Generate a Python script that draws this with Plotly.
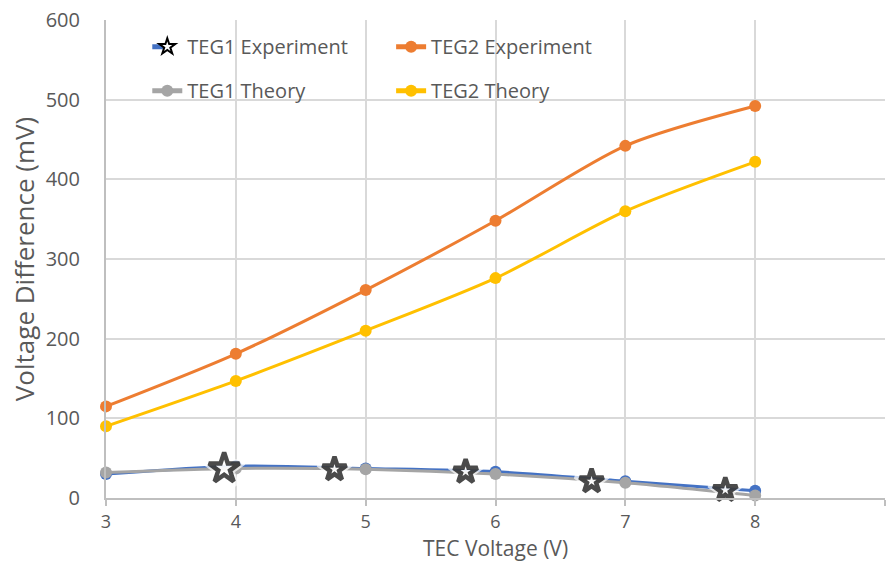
import plotly.graph_objects as go

# TEC drive voltage (V)
tec_voltage = [3, 4, 5, 6, 7, 8]

# Measured and predicted voltage difference (mV)
teg1_experiment = [30, 40, 37, 33, 21, 9]
teg1_theory = [32, 37, 36, 30, 19, 3]
teg2_experiment = [115, 181, 261, 348, 442, 492]
teg2_theory = [90, 147, 210, 276, 360, 422]

# Star callouts placed along the TEG1 experiment curve
star_x = [3.91, 4.76, 5.77, 6.74, 7.77]
star_y = [37, 36, 33, 21, 10]
star_size = [23, 18, 18, 18, 18]

BLUE = "#4472C4"
ORANGE = "#ED7D31"
GREY = "#A5A5A5"
YELLOW = "#FFC000"
TEXT = "#595959"
GRID = "#D9D9D9"
AXIS = "#BFBFBF"
FONT = "'Open Sans', Lato, sans-serif"

fig = go.Figure()


def series(name, y, color, legend, group, show=True):
    fig.add_trace(go.Scatter(
        x=tec_voltage, y=y, name=name, mode="lines+markers",
        line=dict(color=color, width=3, shape="spline", smoothing=0.8),
        marker=dict(color=color, size=12, symbol="circle"),
        cliponaxis=False, legend=legend, legendgroup=group, showlegend=show,
    ))


series("TEG1 Experiment", teg1_experiment, BLUE, "legend", "a1", show=False)
series("TEG1 Theory", teg1_theory, GREY, "legend", "a2")
series("TEG2 Experiment", teg2_experiment, ORANGE, "legend2", "b1")
series("TEG2 Theory", teg2_theory, YELLOW, "legend2", "b2")

# White halo behind each star, breaking the curves underneath
fig.add_trace(go.Scatter(
    x=star_x, y=star_y, mode="markers", showlegend=False, hoverinfo="skip",
    marker=dict(symbol="star", color="white", size=[s + 6 for s in star_size],
                line=dict(color="white", width=6)),
    cliponaxis=False,
))
fig.add_trace(go.Scatter(
    x=star_x, y=star_y, mode="markers", showlegend=False,
    marker=dict(symbol="star", color="white", size=star_size,
                line=dict(color="black", width=4.5)),
    cliponaxis=False,
))

# Legend entry for the experiment series, shown with its star symbol
fig.add_trace(go.Scatter(
    x=[None], y=[None], name="TEG1 Experiment", mode="lines+markers",
    line=dict(color=BLUE, width=3, dash="dash"),
    marker=dict(symbol="star", color="white", size=14, line=dict(color="black", width=3)),
    legend="legend", legendgroup="a1", legendrank=1,
))

legend_style = dict(
    font=dict(family=FONT, size=20, color=TEXT),
    bgcolor="rgba(255,255,255,0)", borderwidth=0,
    orientation="v", yanchor="top", xanchor="left",
    tracegroupgap=15, itemsizing="constant",
)

fig.update_layout(
    width=890, height=562,
    margin=dict(l=106, r=5, t=20, b=64),
    paper_bgcolor="white", plot_bgcolor="white",
    font=dict(family=FONT, size=20, color=TEXT),
    legend=dict(x=0.053, y=0.985, **legend_style),
    legend2=dict(x=0.366, y=0.985, **legend_style),
    xaxis=dict(
        range=[3, 9], dtick=1, tick0=3, automargin=False,
        showgrid=True, gridcolor=GRID, gridwidth=2,
        showline=True, linecolor=AXIS, linewidth=2,
        ticks="outside", ticklen=6, tickcolor=AXIS, tickwidth=2,
        ticklabelstandoff=0,
        zeroline=False,
        tickfont=dict(family=FONT, size=18, color=TEXT),
    ),
    yaxis=dict(
        range=[0, 600], dtick=100, automargin=False,
        showgrid=True, gridcolor=GRID, gridwidth=2,
        showline=True, linecolor=AXIS, linewidth=2,
        zeroline=False, ticks="",
        ticklabelstandoff=20,
        title=dict(text="Voltage Difference (mV)", font=dict(family=FONT, size=26, color=TEXT), standoff=4),
        tickfont=dict(family=FONT, size=20, color=TEXT),
    ),
    annotations=[dict(
        text="TEC Voltage (V)", xref="paper", yref="paper",
        x=0.5, y=-0.1036, xanchor="center", yanchor="middle", showarrow=False,
        font=dict(family=FONT, size=21, color=TEXT), borderpad=0,
    )],
)

fig.write_html("out.html")
